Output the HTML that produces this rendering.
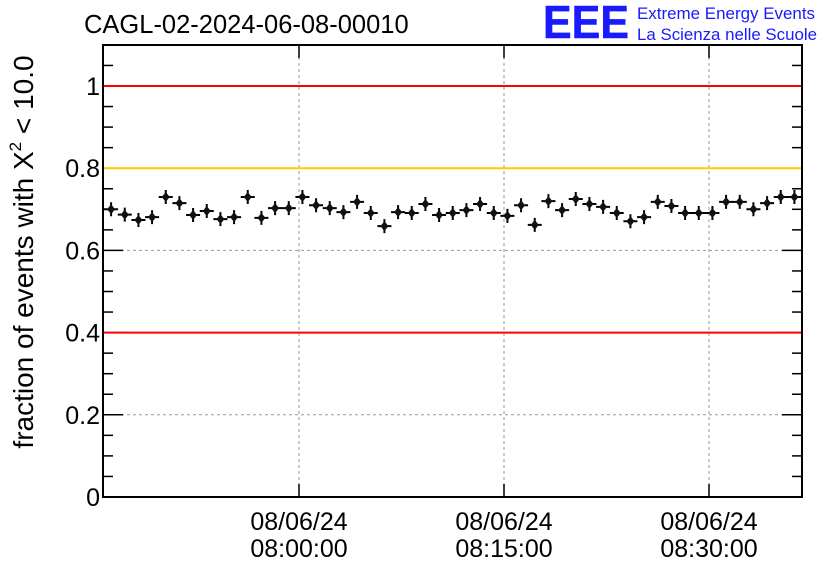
<!DOCTYPE html>
<html><head><meta charset="utf-8"><style>
body{margin:0;background:#fff}
svg text{font-family:"Liberation Sans",sans-serif}
</style></head><body>
<svg width="836" height="572">
<rect x="0" y="0" width="836" height="572" fill="#fff"/>
<text x="84" y="33" font-size="25.5">CAGL-02-2024-06-08-00010</text>
<g>
<text x="543" y="38" font-size="46" font-weight="bold" fill="#1a1aff" stroke="#1a1aff" stroke-width="0.5" textLength="86" lengthAdjust="spacingAndGlyphs">EEE</text>
<text x="637" y="19" font-size="16.5" fill="#1a1aff" textLength="178" lengthAdjust="spacingAndGlyphs">Extreme Energy Events</text>
<text x="637" y="40" font-size="16.5" fill="#1a1aff" textLength="180" lengthAdjust="spacingAndGlyphs">La Scienza nelle Scuole</text>
</g>
<text transform="translate(33,252) rotate(-90)" text-anchor="middle" font-size="28">fraction of events with X<tspan dy="-12" font-size="17">2</tspan><tspan dy="12"> &lt; 10.0</tspan></text>
<g id="grid"></g><g id="axes"></g><g id="marks"></g>
</svg>
<script>
const yValues=[0.700,0.687,0.674,0.681,0.730,0.715,0.686,0.696,0.676,0.681,0.730,0.679,0.703,0.703,0.730,0.710,0.703,0.693,0.718,0.691,0.659,0.693,0.691,0.713,0.686,0.691,0.698,0.713,0.691,0.684,0.710,0.662,0.720,0.698,0.725,0.713,0.706,0.691,0.671,0.681,0.718,0.708,0.691,0.691,0.691,0.718,0.718,0.700,0.715,0.730,0.730];
const startMinute=-13.75; // minutes relative to 08:00
const xTickMinutes=[0,15,30];
const xTickLabels=[["08/06/24","08:00:00"],["08/06/24","08:15:00"],["08/06/24","08:30:00"]];
const yTicks=[0,0.2,0.4,0.6,0.8,1];
const yTickLabels=["0","0.2","0.4","0.6","0.8","1"];
const refLines=[[1,"#ff0000"],[0.8,"#ffcc00"],[0.4,"#ff0000"]];
const L=103,R=802,T=45,B=497;
const X=m=>299+(m)*(205/15);
const Y=v=>B-v*411;
const NS="http://www.w3.org/2000/svg";
function mk(parent,tag,attrs){const e=document.createElementNS(NS,tag);for(const k in attrs)e.setAttribute(k,attrs[k]);document.getElementById(parent).appendChild(e);return e;}
yTicks.forEach((v,i)=>{if(v>0){const g=mk('grid','line',{x1:L,x2:R,y1:Y(v),y2:Y(v),stroke:'#999','stroke-dasharray':'3,3'});

}});
xTickMinutes.forEach(m=>{const g=mk('grid','line',{x1:X(m),x2:X(m),y1:T,y2:B,stroke:'#999','stroke-dasharray':'3,3'});

});
for(let v=0;v<=1.1001;v+=0.05){const maj=Math.abs(v/0.2-Math.round(v/0.2))<1e-6;const len=maj?20:10;
mk('axes','line',{x1:L,x2:L+len,y1:Y(v),y2:Y(v),stroke:'#000','stroke-width':1.5});
mk('axes','line',{x1:R,x2:R-len,y1:Y(v),y2:Y(v),stroke:'#000','stroke-width':1.5});}
refLines.forEach(r=>{const l=mk('axes','line',{x1:L,x2:R,y1:Y(r[0]),y2:Y(r[0]),stroke:r[1],'stroke-width':2});

});
const fr=mk('axes','rect',{x:L,y:T,width:R-L,height:B-T,fill:'none',stroke:'#000','stroke-width':2});


yTicks.forEach((v,i)=>{const t=mk('axes','text',{x:L-3,y:Y(v)+9,'text-anchor':'end','font-size':25});t.textContent=yTickLabels[i];

});
xTickMinutes.forEach(m=>{mk('axes','line',{x1:X(m),x2:X(m),y1:B,y2:B-13,stroke:'#000','stroke-width':1.5});
mk('axes','line',{x1:X(m),x2:X(m),y1:T,y2:T+13,stroke:'#000','stroke-width':1.5});});
xTickMinutes.forEach((m,i)=>{xTickLabels[i].forEach((s,j)=>{const t=mk('axes','text',{x:X(m),y:530+j*27,'text-anchor':'middle','font-size':25});t.textContent=s;

});});
yValues.forEach((v,i)=>{const m=startMinute+i;const cx=X(m),cy=Y(v);
const g=mk('marks','g',{});


const a=document.createElementNS(NS,'path');a.setAttribute('d',`M${cx-7},${cy}H${cx+7}M${cx},${cy-7}V${cy+7}`);a.setAttribute('stroke','#000');a.setAttribute('stroke-width','2');g.appendChild(a);
const d=document.createElementNS(NS,'path');d.setAttribute('d',`M${cx},${cy-5}L${cx+4},${cy}L${cx},${cy+5}L${cx-4},${cy}Z`);d.setAttribute('fill','#111');g.appendChild(d);});
</script>
</body></html>
